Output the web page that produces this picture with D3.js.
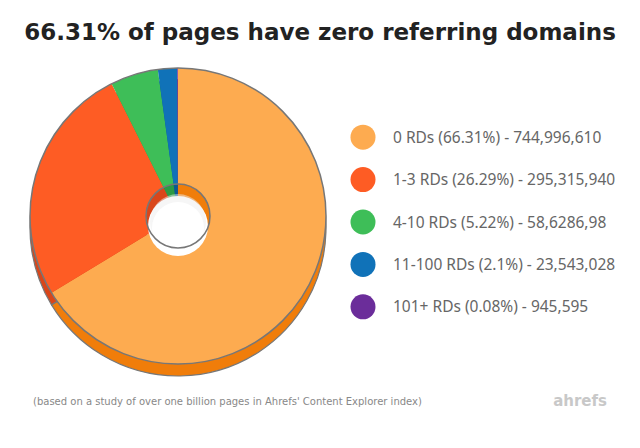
<!DOCTYPE html><html><head><meta charset="utf-8"><script src="https://cdn.jsdelivr.net/npm/d3@7"></script>
<style>body{margin:0;background:#fff}</style></head><body><svg id="c" width="640" height="448"></svg><script>
const categories=["0 RDs","1-3 RDs","4-10 RDs","11-100 RDs","101+ RDs"];
const percents=[66.31,26.29,5.22,2.1,0.08];
const counts=["744,996,610","295,315,940","58,6286,98","23,543,028","945,595"];
const colors=["#fdab50","#fe5c24","#3ebe58","#1072b8","#6b2d9a"];
const sideColors=["#f07d0a","#d9461a","#2c9a45","#0b5a93","#4f1f75"];
const svg=d3.select("#c");
svg.append("text").attr("x",320).attr("y",40).attr("text-anchor","middle").attr("font-family","DejaVu Sans").attr("font-weight","bold").attr("font-size",23).attr("fill","#222").text("66.31% of pages have zero referring domains");
const cx=178,cy=216,R=148,r=32,depth=12;
const pie=d3.pie().sort(null).value(d=>d)(percents);
const arc=d3.arc().outerRadius(R).innerRadius(r);
const sideG=svg.append("g").attr("transform",`translate(${cx},${cy+depth})`);
sideG.selectAll("path").data(pie).join("path").attr("d",arc).attr("fill",(d,i)=>sideColors[i]).attr("stroke","#777").attr("stroke-width",1.2);
const topG=svg.append("g").attr("transform",`translate(${cx},${cy})`);
topG.selectAll("path.s").data(pie).join("path").attr("class","s").attr("d",arc).attr("fill",(d,i)=>colors[i]);
topG.append("circle").attr("r",R).attr("fill","none").attr("stroke","#777").attr("stroke-width",1.5);
topG.selectAll("path.w").data(pie).join("path").attr("class","w").attr("d",d3.arc().outerRadius(r).innerRadius(0)).attr("fill",(d,i)=>sideColors[i]);
topG.append("circle").attr("cy",depth-2).attr("r",r-2).attr("fill","#fff");
topG.append("circle").attr("cy",depth-6).attr("r",r-4).attr("fill","#eee").attr("opacity",0.5);
topG.append("circle").attr("cy",depth).attr("r",r-6).attr("fill","#fff");
topG.append("circle").attr("r",r).attr("fill","none").attr("stroke","#777").attr("stroke-width",1.5);
const y=d3.scaleBand().domain(categories).range([116,328]);
const lg=svg.append("g");
categories.forEach((c,i)=>{
  const yy=y(c)+y.bandwidth()/2;
  lg.append("circle").attr("cx",363).attr("cy",yy).attr("r",12.5).attr("fill",colors[i]);
  lg.append("text").attr("x",393).attr("y",yy+5.5).attr("font-family","Noto Sans").attr("font-size",15.5).attr("fill","#666").text(`${c} (${percents[i]}%) - ${counts[i]}`);
});
svg.append("text").attr("x",33).attr("y",405).attr("font-family","DejaVu Sans").attr("font-size",10).attr("fill","#888").text("(based on a study of over one billion pages in Ahrefs' Content Explorer index)");
svg.append("text").attr("x",607).attr("y",406).attr("text-anchor","end").attr("font-family","DejaVu Sans").attr("font-weight","bold").attr("font-size",15).attr("fill","#c8c8c8").text("ahrefs");
</script></body></html>
